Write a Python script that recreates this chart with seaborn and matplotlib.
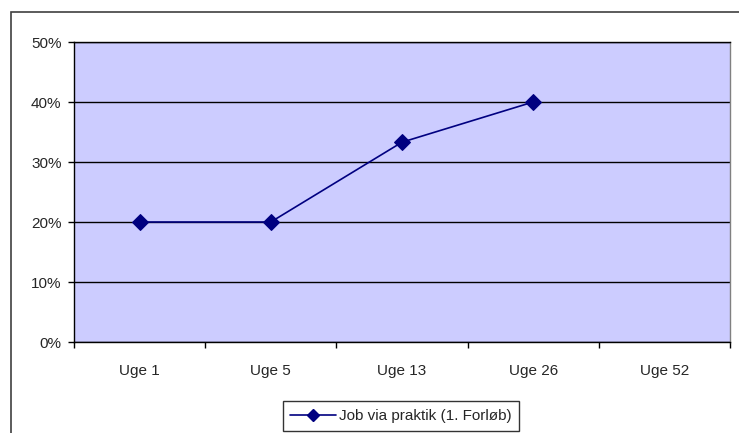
import matplotlib
matplotlib.use("Agg")
import matplotlib.pyplot as plt
import matplotlib.ticker as mticker
from matplotlib.lines import Line2D
from matplotlib.patches import Rectangle
import numpy as np
import pandas as pd
import seaborn as sns

categories = ["Uge 1", "Uge 5", "Uge 13", "Uge 26", "Uge 52"]
values = [20.0, 20.0, 33.3, 40.0, np.nan]
series_name = "Job via praktik (1. Forløb)"

sns.set_style("white")
plt.rcParams["font.family"] = ["Liberation Sans", "DejaVu Sans"]

df = pd.DataFrame({"pos": np.arange(len(categories)), "value": values})

fig = plt.figure(figsize=(7.39, 4.33), dpi=100)
ax = fig.add_axes([74/739, 1-342/433, (730-74)/739, (342-42)/433])
ax.set_facecolor("#CCCCFF")

sns.lineplot(data=df, x="pos", y="value", ax=ax, color="#000080", marker="D",
             markersize=8, markeredgecolor="#000080", linewidth=1.2, legend=False)

ax.set_xlim(-0.5, len(categories) - 0.5)
ax.set_ylim(0, 50)
ax.yaxis.set_major_locator(mticker.MultipleLocator(10))
ax.yaxis.set_major_formatter(mticker.FuncFormatter(lambda v, p: f"{int(round(v))}%"))
ax.set_xticks(np.arange(len(categories)))
ax.set_xticklabels(categories)
ax.set_xticks(np.arange(len(categories) + 1) - 0.5, minor=True)
ax.tick_params(axis="x", which="major", length=0, pad=16, labelsize=11)
ax.tick_params(axis="x", which="minor", length=4, width=1, color="black", direction="out", bottom=True)
ax.tick_params(axis="y", length=4, width=1, color="black", direction="out", left=True, pad=5, labelsize=11)
ax.set_xlabel("")
ax.set_ylabel("")
ax.grid(axis="y", color="black", linewidth=1)
ax.grid(axis="x", visible=False)
for s in ["left", "bottom", "top"]:
    ax.spines[s].set_color("black")
    ax.spines[s].set_linewidth(1)
ax.spines["right"].set_color("#808080")
ax.spines["right"].set_linewidth(1)

# outer chart border
fig.add_artist(Rectangle((11/739, -0.1), 1.0, 1 - 12/433 + 0.1, transform=fig.transFigure,
                         fill=False, edgecolor="#404040", linewidth=1.2))

handle = Line2D([], [], color="#000080", marker="D", markersize=6, linewidth=1.2)
leg = fig.legend([handle], [series_name], loc="center", bbox_to_anchor=(401/739, 1 - 416/433),
                 frameon=True, fancybox=False, fontsize=11, handlelength=3.0,
                 borderpad=0.5, handletextpad=0.2, borderaxespad=0)
leg.get_frame().set_edgecolor("black")
leg.get_frame().set_linewidth(1)

fig.savefig("out.png", dpi=100)
